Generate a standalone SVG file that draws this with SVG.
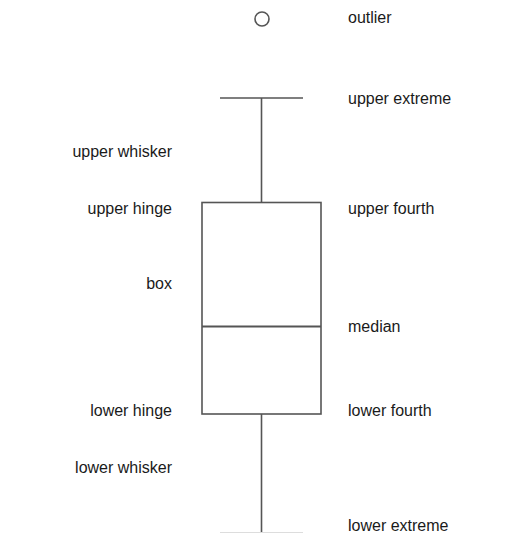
<svg xmlns="http://www.w3.org/2000/svg" width="516" height="533" viewBox="0 0 516 533">
<style>
.ln{stroke:#555;stroke-width:1.6;fill:none}
.t{font-family:"Liberation Sans",Arial,sans-serif;font-size:16px;fill:#1a1a1a}
.l{text-anchor:end}
</style>
<rect width="516" height="533" fill="#fff"/>
<g id="connectors">
<line class="ln" x1="261.5" y1="98" x2="261.5" y2="202"/>
<line class="ln" x1="261.5" y1="414" x2="261.5" y2="533"/>
<line x1="220" y1="532.5" x2="303" y2="532.5" stroke="#ddd" stroke-width="1"/>
</g>
<g id="outlier"><circle class="ln" cx="262" cy="19" r="7"/></g>
<g id="upper-extreme"><line class="ln" x1="220" y1="98" x2="303" y2="98"/></g>
<g id="box"><rect class="ln" x="202" y="202.5" width="119" height="211.5"/></g>
<g id="median"><line class="ln" x1="202" y1="326.5" x2="321" y2="326.5" style="stroke-width:2.2"/></g>
<g id="labels">
<text class="t" x="348" y="23">outlier</text>
<text class="t" x="348" y="104">upper extreme</text>
<text class="t" x="348" y="214">upper fourth</text>
<text class="t" x="348" y="332">median</text>
<text class="t" x="348" y="416">lower fourth</text>
<text class="t" x="348" y="531">lower extreme</text>
<text class="t l" x="172" y="157">upper whisker</text>
<text class="t l" x="172" y="214">upper hinge</text>
<text class="t l" x="172" y="289">box</text>
<text class="t l" x="172" y="416">lower hinge</text>
<text class="t l" x="172" y="473">lower whisker</text>
</g>
</svg>
